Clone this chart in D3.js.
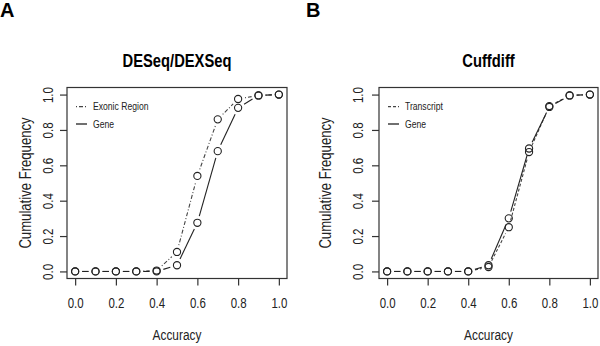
<!DOCTYPE html>
<html>
<head>
<meta charset="utf-8">
<script src="https://cdn.jsdelivr.net/npm/d3@7"></script>
<style>
  body { margin: 0; background: #fff; }
  svg { display: block; font-family: 'Liberation Sans', Arial, sans-serif; }
</style>
</head>
<body>
<svg id="fig" width="600" height="346"></svg>
<script>
// data
const accuracy = [0.0, 0.1, 0.2, 0.3, 0.4, 0.5, 0.6, 0.7, 0.8, 0.9, 1.0];
const deseqExonic = [0, 0, 0, 0, 0.005, 0.11, 0.54, 0.86, 0.975, 0.995, 1.0];
const deseqGene = [0, 0, 0, 0, 0, 0.035, 0.275, 0.68, 0.925, 0.995, 1.0];
const cuffTranscript = [0, 0, 0, 0, 0, 0.025, 0.25, 0.675, 0.935, 0.995, 1.0];
const cuffGene = [0, 0, 0, 0, 0, 0.035, 0.30, 0.695, 0.93, 0.995, 1.0];
const xTicks = [0, 0.2, 0.4, 0.6, 0.8, 1.0];
const yTicks = [0, 0.2, 0.4, 0.6, 0.8, 1.0];

// the figure uses a narrow sans; squeeze Liberation Sans horizontally
const NARROW = 0.82;

class CumulativeChart {

    constructor( config, series ) {
        this.config = {
            parent: config.parent,
            box: config.box,
            letter: config.letter,
            letterX: config.letterX,
            title: config.title,
            tickLabelX: config.tickLabelX,
            ylabelX: config.ylabelX
        };
        this.series = series;
        this.init();
    }

    init() {
        let self = this;
        const b = self.config.box;
        self.svg = d3.select( self.config.parent );
        self.g = self.svg.append('g');

        // R style: 4% padding inside the box
        const px = (b.right - b.left) * 0.04 / 1.08;
        const py = (b.bottom - b.top) * 0.04 / 1.08;
        self.xscale = d3.scaleLinear().domain([0, 1]).range([b.left + px, b.right - px]);
        self.yscale = d3.scaleLinear().domain([0, 1]).range([b.bottom - py, b.top + py]);

        self.g.append('rect')
            .attr('x', b.left).attr('y', b.top)
            .attr('width', b.right - b.left).attr('height', b.bottom - b.top)
            .attr('fill', 'none').attr('stroke', '#333').attr('stroke-width', 1.2);

        const xaxis = d3.axisBottom( self.xscale )
            .tickValues(xTicks).tickSize(7).tickPadding(0).tickFormat(d3.format('.1f'));
        self.g.append('g')
            .attr('transform', `translate(0, ${b.bottom})`)
            .call( xaxis )
            .call( g => g.select('.domain').remove() )
            .call( g => g.selectAll('line').attr('stroke', '#333').attr('stroke-width', 1.2) )
            .call( g => g.selectAll('text')
                .attr('y', 0).attr('dy', null)
                .attr('transform', `translate(0, ${308 - b.bottom}) scale(${NARROW}, 1)`)
                .style('font-size', '14px').attr('fill', '#222') );

        const yaxis = d3.axisLeft( self.yscale )
            .tickValues(yTicks).tickSize(7).tickFormat(d3.format('.1f'));
        self.g.append('g')
            .attr('transform', `translate(${b.left}, 0)`)
            .call( yaxis )
            .call( g => g.select('.domain').remove() )
            .call( g => g.selectAll('line').attr('stroke', '#333').attr('stroke-width', 1.2) )
            .call( g => g.selectAll('text')
                .attr('x', 0).attr('dy', null)
                .attr('text-anchor', 'middle')
                .attr('transform', `translate(${self.config.tickLabelX - b.left}, 0) rotate(-90) scale(${NARROW}, 1)`)
                .style('font-size', '14px').attr('fill', '#222') );

        const cx = (b.left + b.right) / 2;
        self.svg.append('text')
            .attr('transform', `translate(${cx}, 67) scale(${NARROW}, 1)`)
            .attr('text-anchor', 'middle')
            .style('font-size', '18px').style('font-weight', 'bold')
            .text( self.config.title );

        self.svg.append('text')
            .attr('transform', `translate(${cx}, 339.5) scale(${NARROW}, 1)`)
            .attr('text-anchor', 'middle')
            .style('font-size', '14.5px').attr('fill', '#222')
            .text('Accuracy');

        self.svg.append('text')
            .attr('transform', `translate(${self.config.ylabelX}, ${(b.top + b.bottom) / 2}) rotate(-90) scale(${NARROW}, 1)`)
            .attr('text-anchor', 'middle')
            .style('font-size', '16px').attr('fill', '#222')
            .text('Cumulative Frequency');

        self.svg.append('text')
            .attr('x', self.config.letterX).attr('y', 17)
            .style('font-size', '20px').style('font-weight', 'bold')
            .text( self.config.letter );
    }

    render() {
        let self = this;
        const gap = 7;
        const b = self.config.box;

        self.series.forEach( s => {
            const pts = accuracy.map( (a, i) => [ self.xscale(a), self.yscale(s.values[i]) ] );
            // type="b": segments broken around the points
            const segs = d3.pairs(pts).map( ([p, q]) => {
                const dx = q[0] - p[0], dy = q[1] - p[1];
                const len = Math.hypot(dx, dy);
                if (len <= 2 * gap) return null;
                const ux = dx / len, uy = dy / len;
                return [p[0] + ux * gap, p[1] + uy * gap, q[0] - ux * gap, q[1] - uy * gap];
            }).filter( d => d );

            self.g.append('g').selectAll('line')
                .data(segs)
                .join('line')
                .attr('x1', d => d[0]).attr('y1', d => d[1])
                .attr('x2', d => d[2]).attr('y2', d => d[3])
                .attr('stroke', s.color)
                .attr('stroke-width', 1.1)
                .attr('stroke-dasharray', s.dash);

            self.g.append('g').selectAll('circle')
                .data(pts)
                .join('circle')
                .attr('cx', d => d[0]).attr('cy', d => d[1])
                .attr('r', 3.6)
                .attr('fill', 'none')
                .attr('stroke', '#222')
                .attr('stroke-width', 1.1);
        });

        // legend
        const legend = self.g.append('g');
        self.series.forEach( (s, i) => {
            const ly = 106.7 + i * 17.3;
            legend.append('line')
                .attr('x1', b.left + 9).attr('x2', b.left + 20)
                .attr('y1', ly).attr('y2', ly)
                .attr('stroke', s.color).attr('stroke-width', 1.3)
                .attr('stroke-dasharray', s.dash);
            legend.append('text')
                .attr('transform', `translate(${b.left + 26}, ${ly + 3.6}) scale(${NARROW}, 1)`)
                .style('font-size', '10.5px').attr('fill', '#222')
                .text(s.name);
        });
    }
}

const chartA = new CumulativeChart({
    parent: '#fig',
    box: {left: 67, right: 287, top: 87.5, bottom: 278.5},
    letter: 'A', letterX: 0,
    title: 'DESeq/DEXSeq',
    tickLabelX: 53.3, ylabelX: 31
}, [
    {name: 'Exonic Region', values: deseqExonic, dash: '1,2,4,2', color: '#444'},
    {name: 'Gene', values: deseqGene, dash: null, color: '#222'}
]);
chartA.render();

const chartB = new CumulativeChart({
    parent: '#fig',
    box: {left: 379, right: 598, top: 87.5, bottom: 278.5},
    letter: 'B', letterX: 306,
    title: 'Cuffdiff',
    tickLabelX: 363.3, ylabelX: 330.5
}, [
    {name: 'Transcript', values: cuffTranscript, dash: '3,2', color: '#444'},
    {name: 'Gene', values: cuffGene, dash: null, color: '#222'}
]);
chartB.render();
</script>
</body>
</html>
